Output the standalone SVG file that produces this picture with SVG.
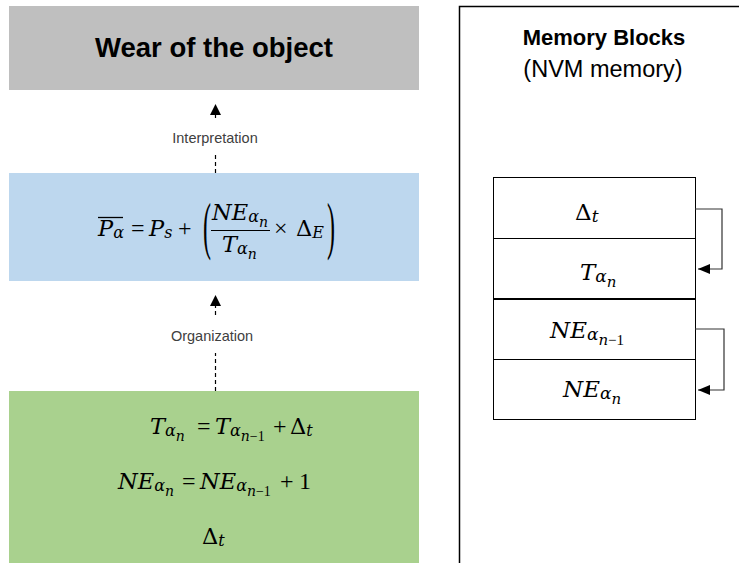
<svg xmlns="http://www.w3.org/2000/svg" width="739" height="563" viewBox="0 0 739 563">
<style>
.m{font-family:"DejaVu Serif",serif;font-style:italic;font-size:22.5px;fill:#000}
.mm{font-size:23px}
.u{font-style:normal}
.r{font-family:"Liberation Serif",serif;font-style:normal}
.op{font-size:24px}
.s1{font-size:16px}
.s2{font-size:14px}
.t1{font-size:17px}
.t2{font-size:15px}
.lbl{font-family:"Liberation Sans",Arial,sans-serif;font-size:14.5px;fill:#404040;text-anchor:middle}
.dash{fill:none;stroke:#000;stroke-width:1.2;stroke-dasharray:4 3}
.br{fill:none;stroke:#333;stroke-width:1.2}
.cell{fill:#fff;stroke:#000;stroke-width:1}
.par{font-family:"Liberation Serif",serif;font-size:24px;fill:#000}
</style>
<defs>
<marker id="ah" markerWidth="12" markerHeight="12" refX="11" refY="5.5" orient="auto" markerUnits="userSpaceOnUse">
<path d="M0 0 L11 5.5 L0 11 Z" fill="#000"/>
</marker>
<marker id="ah2" markerWidth="13" markerHeight="11" refX="12" refY="5" orient="auto" markerUnits="userSpaceOnUse">
<path d="M0 0 L12 5 L0 10 Z" fill="#000"/>
</marker>
</defs>
<rect width="739" height="563" fill="#fff"/>

<g id="wear">
<rect x="9" y="6" width="410" height="84" fill="#BFBFBF"/>
<text x="214" y="57" font-family="Liberation Sans,Arial,sans-serif" font-weight="bold" font-size="27.5" text-anchor="middle" fill="#000">Wear of the object</text>
</g>

<g id="formula">
<rect x="9" y="173" width="410" height="108" fill="#BDD7EE"/>
<text class="m" y="236"><tspan x="98">P</tspan><tspan class="s1" dy="2">α</tspan><tspan class="r op" x="131" dy="-2">=</tspan><tspan x="149">P</tspan><tspan class="s1" dy="2">s</tspan><tspan class="r op" x="178" dy="-2">+</tspan><tspan class="r op" x="274">×</tspan><tspan class="u" x="296">Δ</tspan><tspan class="s1" dy="2">E</tspan></text>
<line x1="98" y1="217.5" x2="123" y2="217.5" stroke="#000" stroke-width="1.3"/>
<text class="par" transform="translate(203,247) scale(1,2.6)">(</text>
<text class="par" transform="translate(327,247) scale(1,2.6)">)</text>
<text class="m" y="220"><tspan x="212">N</tspan><tspan>E</tspan><tspan class="s1" dy="2">α</tspan><tspan class="s2" dy="5">n</tspan></text>
<line x1="211" y1="230.5" x2="270" y2="230.5" stroke="#000" stroke-width="1.2"/>
<text class="m" y="252"><tspan x="222">T</tspan><tspan class="s1" dy="2">α</tspan><tspan class="s2" dy="5">n</tspan></text>
</g>

<g id="update">
<rect x="9" y="391" width="410" height="172" fill="#A9D18E"/>
<text class="m" y="434"><tspan x="150">T</tspan><tspan class="s1" dy="2">α</tspan><tspan class="s2" dy="5">n</tspan><tspan class="r op" x="197" dy="-7">=</tspan><tspan x="215">T</tspan><tspan class="s1" dy="2">α</tspan><tspan class="s2" dy="5">n</tspan><tspan class="r s2">−1</tspan><tspan class="r op" x="273" dy="-7">+</tspan><tspan class="u" x="290">Δ</tspan><tspan class="s1" dy="2">t</tspan></text>
<text class="m" y="489"><tspan x="118">N</tspan><tspan>E</tspan><tspan class="s1" dy="2">α</tspan><tspan class="s2" dy="5">n</tspan><tspan class="r op" x="182" dy="-7">=</tspan><tspan x="200">N</tspan><tspan>E</tspan><tspan class="s1" dy="2">α</tspan><tspan class="s2" dy="5">n</tspan><tspan class="r s2">−1</tspan><tspan class="r op" x="280" dy="-7">+</tspan><tspan class="r op" x="299">1</tspan></text>
<text class="m" y="544"><tspan class="u" x="202">Δ</tspan><tspan class="s1" dy="2">t</tspan></text>
</g>

<g id="memory">
<rect x="459.5" y="6.5" width="300" height="600" fill="none" stroke="#000" stroke-width="1.5"/>
<text x="604" y="45" font-family="Liberation Sans,Arial,sans-serif" font-weight="bold" font-size="22" text-anchor="middle" fill="#000">Memory Blocks</text>
<text x="603" y="77" font-family="Liberation Sans,Arial,sans-serif" font-size="23.5" text-anchor="middle" fill="#000">(NVM memory)</text>
</g>

<g id="block-dt">
<rect class="cell" x="493.5" y="177.5" width="202" height="61"/>
<text class="m mm" y="220"><tspan class="u" x="575">Δ</tspan><tspan class="t1" dy="2">t</tspan></text>
</g>
<g id="block-t">
<rect class="cell" x="493.5" y="238.5" width="202" height="60.5"/>
<text class="m mm" y="280"><tspan x="580">T</tspan><tspan class="t1" dy="2">α</tspan><tspan class="t2" dy="5">n</tspan></text>
</g>
<g id="block-ne1">
<rect class="cell" x="493.5" y="299" width="202" height="60.5"/>
<text class="m mm" y="338"><tspan x="550">N</tspan><tspan>E</tspan><tspan class="t1" dy="2">α</tspan><tspan class="t2" dy="5">n</tspan><tspan class="r t2">−1</tspan></text>
</g>
<g id="block-ne">
<rect class="cell" x="493.5" y="359.5" width="202" height="60"/>
<text class="m mm" y="397"><tspan x="563">N</tspan><tspan>E</tspan><tspan class="t1" dy="2">α</tspan><tspan class="t2" dy="5">n</tspan></text>
</g>
<line x1="493" y1="299" x2="696" y2="299" stroke="#000" stroke-width="2"/>

<g id="connectors">
<path class="dash" d="M215.5 173 V155 M215.5 118 V104" marker-end="url(#ah)"/>
<text class="lbl" x="215" y="143">Interpretation</text>
<path class="dash" d="M215.5 391 V353 M215.5 315 V295" marker-end="url(#ah)"/>
<text class="lbl" x="212" y="341">Organization</text>
<path class="br" d="M695 209 H722 V269 H698" marker-end="url(#ah2)"/>
<path class="br" d="M695 329 H724 V390 H698" marker-end="url(#ah2)"/>
</g>
</svg>
